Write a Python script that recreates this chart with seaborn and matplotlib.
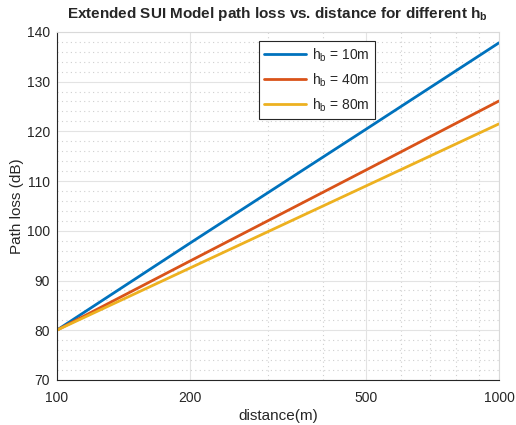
import numpy as np
import pandas as pd
import matplotlib
matplotlib.use("Agg")
import matplotlib.pyplot as plt
import seaborn as sns
from matplotlib.ticker import FixedLocator, NullFormatter, MultipleLocator

distance = [100, 200, 500, 1000]
loss_10m = [80.0, 97.5, 120.4, 137.8]
loss_40m = [80.0, 93.9, 112.2, 126.1]
loss_80m = [80.0, 92.5, 109.0, 121.5]
labels = [r'h$_\mathregular{b}$ = 10m', r'h$_\mathregular{b}$ = 40m', r'h$_\mathregular{b}$ = 80m']
colors = ['#0072BD', '#D95319', '#EDB120']
xtick_vals = [100, 200, 500, 1000]
xtick_labels = ['100', '200', '500', '1000']

df = pd.concat([
    pd.DataFrame({'distance': distance, 'loss': vals, 'series': lab})
    for vals, lab in zip([loss_10m, loss_40m, loss_80m], labels)
])

sns.set_style('white')
plt.rcParams['font.family'] = ['Liberation Sans', 'DejaVu Sans']
plt.rcParams['mathtext.fontset'] = 'custom'
plt.rcParams['mathtext.rm'] = 'Liberation Sans'
plt.rcParams['mathtext.bf'] = 'Liberation Sans:bold'

fig = plt.figure(figsize=(5.16, 4.25), dpi=100)
ax = fig.add_axes([0.110, 0.106, 0.857, 0.819])
sns.lineplot(data=df, x='distance', y='loss', hue='series', palette=colors,
             linewidth=2, ax=ax)
ax.set_xscale('log')
ax.set_xlim(100, 1000)
ax.set_ylim(70, 140)
ax.xaxis.set_major_locator(FixedLocator(xtick_vals))
ax.xaxis.set_minor_locator(FixedLocator([300, 400, 600, 700, 800, 900]))
ax.xaxis.set_major_formatter(matplotlib.ticker.FixedFormatter(xtick_labels))
ax.xaxis.set_minor_formatter(NullFormatter())
ax.yaxis.set_major_locator(MultipleLocator(10))
ax.yaxis.set_minor_locator(MultipleLocator(2))
ax.grid(which='major', color='#e3e3e3', linewidth=0.8, linestyle='-')
ax.grid(which='minor', color='#cfcfcf', linewidth=0.8, linestyle=(0, (1, 3)))
ax.set_axisbelow(True)
ax.tick_params(which='both', direction='in', labelsize=10, colors='#262626')
ax.tick_params(which='major', length=4)
ax.tick_params(which='minor', length=2)
ax.tick_params(axis='x', which='major', pad=8)
ax.tick_params(axis='y', which='major', pad=5)
for s in ['left', 'bottom']:
    ax.spines[s].set_color('#262626')
    ax.spines[s].set_linewidth(0.8)
for s in ['top', 'right']:
    ax.spines[s].set_color('#d9d9d9')
    ax.spines[s].set_linewidth(0.8)
ax.set_xlabel('distance(m)', fontsize=11, color='#262626', labelpad=3)
ax.set_ylabel('Path loss (dB)', fontsize=11, color='#262626', labelpad=2)
ax.set_title(r'Extended SUI Model path loss vs. distance for different h$_\mathbf{b}$',
             fontsize=11, fontweight='bold', pad=10)
leg = ax.legend(title=None, loc='upper left', bbox_to_anchor=(0.457, 0.975),
                borderaxespad=0, fontsize=10, frameon=True, fancybox=False,
                handlelength=3.0, handletextpad=0.4, labelspacing=0.55,
                borderpad=0.4)
leg.get_frame().set_edgecolor('#262626')
leg.get_frame().set_linewidth(0.8)
leg.get_frame().set_alpha(1)
fig.savefig('out.png', dpi=100)
